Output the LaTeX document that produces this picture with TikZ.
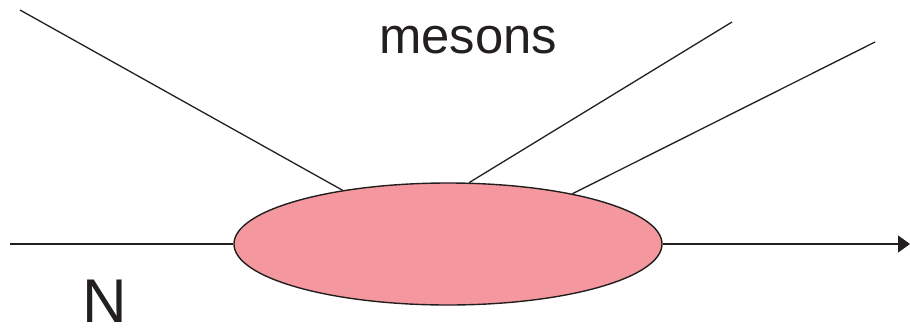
\documentclass[tikz,border=0pt]{standalone}
\usepackage{fontspec}
\setmainfont{Liberation Sans}
\usetikzlibrary{shapes.geometric,arrows.meta}
\definecolor{blobfill}{RGB}{244,151,158}
\definecolor{ink}{RGB}{35,31,32}
\tikzset{
  blobshape/.style={ellipse, draw=ink, line width=1.4bp, fill=blobfill, minimum width=428bp, minimum height=122bp, inner sep=0pt},
  track/.style={draw=ink, line width=1.3bp},
  lbl/.style={anchor=base, inner sep=0pt, text=ink}
}
\begin{document}
\begin{tikzpicture}[x=1bp,y=-1bp]
\useasboundingbox (0,0) rectangle (910,328);
\node[blobshape] (blob) at (448,244) {};
\coordinate (inL) at (10,244);
\coordinate (outR) at (910,244);
\coordinate (m1) at (20,10);
\coordinate (m2) at (732,22);
\coordinate (m3) at (875,42);
\draw[track] (inL) -- (blob.west);
\draw[track, -{Triangle[length=12bp,width=17bp]}] (blob.east) -- (outR);
\draw[track] (m1) -- (blob.153.4);
\draw[track] (m2) -- (blob.71.6);
\draw[track] (m3) -- (blob.22.5);
\node[lbl, font=\fontsize{51}{60}\selectfont] (mes) at (468,53) {mesons};
\node[lbl, font=\fontsize{62}{72}\selectfont] (N) at (105,322) {N};
\end{tikzpicture}
\end{document}
